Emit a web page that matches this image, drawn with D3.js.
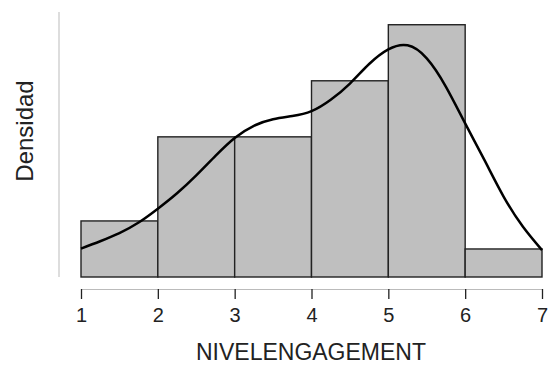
<!DOCTYPE html>
<html>
<head>
<meta charset="utf-8">
<script src="https://cdn.jsdelivr.net/npm/d3@7"></script>
<style>
  body { margin: 0; background: #fff; }
  text { font-family: "Liberation Sans", Arial, sans-serif; }
</style>
</head>
<body>
<div id="chart"></div>
<script>
// histogram bins (edges) and counts
const binEdges = [1, 2, 3, 4, 5, 6, 7];
const binCounts = [2, 5, 5, 7, 9, 1];
const totalN = 29;

// density curve
const curveX = [1.0, 1.25, 1.5, 1.75, 2.0, 2.25, 2.5, 2.75, 3.0, 3.25, 3.5, 3.75, 4.0, 4.25, 4.5, 4.75, 5.0, 5.25, 5.5, 5.75, 6.0, 6.25, 6.5, 6.75, 7.0];
const curveY = [0.035, 0.044, 0.054, 0.067, 0.084, 0.103, 0.125, 0.149, 0.171, 0.186, 0.194, 0.198, 0.204, 0.218, 0.238, 0.262, 0.280, 0.285, 0.269, 0.234, 0.189, 0.144, 0.099, 0.062, 0.033];

const xTicks = [1, 2, 3, 4, 5, 6, 7];
const yMax = 0.326;

const width = 558, height = 365;
const svg = d3.select('#chart').append('svg')
  .attr('width', width)
  .attr('height', height);

const x = d3.scaleLinear().domain([1, 7]).range([81, 542]);
const y = d3.scaleLinear().domain([0, yMax]).range([277, 12]);

const bins = binCounts.map((c, i) => ({ x0: binEdges[i], x1: binEdges[i + 1], d: c / (totalN * (binEdges[i + 1] - binEdges[i])) }));

svg.selectAll('rect.bar')
  .data(bins)
  .enter()
  .append('rect')
  .attr('class', 'bar')
  .attr('x', b => x(b.x0))
  .attr('y', b => y(b.d))
  .attr('width', b => x(b.x1) - x(b.x0))
  .attr('height', b => y(0) - y(b.d))
  .attr('fill', '#bfbfbf')
  .attr('stroke', '#222')
  .attr('stroke-width', 1.4);

const line = d3.line()
  .x(d => x(d[0]))
  .y(d => y(d[1]))
  .curve(d3.curveNatural);

svg.append('path')
  .datum(curveX.map((v, i) => [v, curveY[i]]))
  .attr('d', line)
  .attr('fill', 'none')
  .attr('stroke', '#000')
  .attr('stroke-width', 2.5);

// y axis line only
svg.append('line')
  .attr('x1', 59).attr('x2', 59)
  .attr('y1', y(yMax)).attr('y2', y(0))
  .attr('stroke', '#bbb')
  .attr('stroke-width', 1);

// x axis
const xAxis = svg.append('g')
  .attr('transform', 'translate(0, 289)')
  .call(d3.axisBottom(x).tickValues(xTicks).tickFormat(d3.format('d')).tickSize(10).tickSizeOuter(0));
xAxis.select('.domain').attr('stroke', '#bbb');
xAxis.selectAll('.tick line').attr('stroke', '#222').attr('stroke-width', 1.3);
xAxis.selectAll('.tick text')
  .attr('font-size', '20px')
  .attr('fill', '#222')
  .attr('y', 19)
  .style('font-family', '"Liberation Sans", Arial, sans-serif');

svg.append('text')
  .attr('x', 311)
  .attr('y', 360)
  .attr('text-anchor', 'middle')
  .attr('font-size', '23px')
  .attr('fill', '#222')
  .text('NIVELENGAGEMENT');

svg.append('text')
  .attr('transform', 'translate(33, 131) rotate(-90)')
  .attr('text-anchor', 'middle')
  .attr('font-size', '24px')
  .attr('fill', '#222')
  .text('Densidad');
</script>
</body>
</html>
